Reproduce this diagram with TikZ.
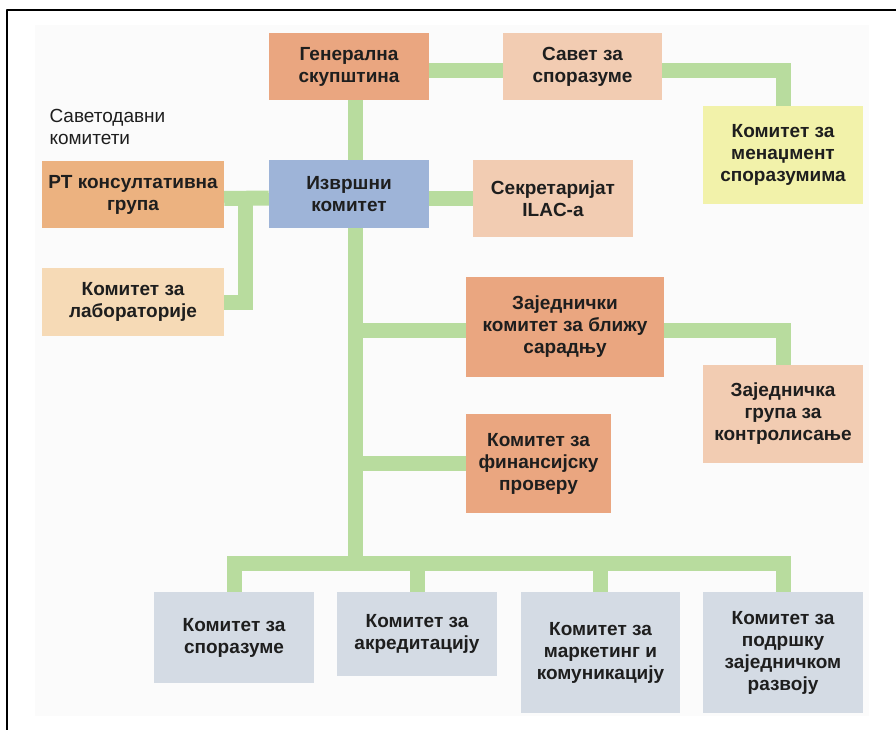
\documentclass[tikz,border=0pt]{standalone}
\usepackage{fontspec}
\setmainfont{Liberation Sans}
\definecolor{barGreen}{RGB}{184,220,158}
\definecolor{salmon}{RGB}{234,166,128}
\definecolor{peach}{RGB}{242,204,178}
\definecolor{lemon}{RGB}{242,242,170}
\definecolor{steel}{RGB}{158,180,216}
\definecolor{tan}{RGB}{236,178,128}
\definecolor{sand}{RGB}{246,218,182}
\definecolor{mist}{RGB}{212,219,228}
\definecolor{ink}{RGB}{30,30,30}
\begin{document}
\begin{tikzpicture}[x=1pt,y=-1pt, line join=round,
  box/.style={rectangle, inner sep=0pt, align=center, text=ink,
    font=\fontsize{19}{22}\selectfont\bfseries},
  wh/.style 2 args={minimum width=#1pt, minimum height=#2pt},
  bar/.style={draw=barGreen, line width=15pt, line join=miter}]
  \useasboundingbox (0,0) rectangle (896,730);
  \fill[black!1.5] (35,25) rectangle (869,716);
  \draw[line width=2.5pt] (7,730) -- (7,10) -- (896,10);

  % boxes
  \node[box, wh={160}{67}, fill=salmon] (gen) at (349,66.5) {Генерална\\скупштина};
  \node[box, wh={159}{67}, fill=peach] (savet) at (582.5,66.5) {Савет за\\споразуме};
  \node[box, wh={160}{98}, fill=lemon] (menadz) at (783,155) {Комитет за\\менаџмент\\споразумима};
  \node[box, wh={160}{68}, fill=steel] (izvr) at (349,194) {Извршни\\комитет};
  \node[box, wh={160}{77}, fill=peach] (sekr) at (553,198.5) {Секретаријат\\ILAC-а};
  \node[box, wh={182}{67}, fill=tan] (pt) at (133,194.5) {PT консултативна\\група};
  \node[box, wh={182}{68}, fill=sand] (lab) at (133,302) {Комитет за\\лабораторије};
  \node[box, wh={198}{100}, fill=salmon] (zajk) at (565,327) {Заједнички\\комитет за ближу\\сарадњу};
  \node[box, wh={160}{98}, fill=peach] (kontr) at (783,414) {Заједничка\\група за\\контролисање};
  \node[box, wh={145}{99}, fill=salmon] (fin) at (538.5,463.5) {Комитет за\\финансијску\\проверу};
  \node[box, wh={160}{91}, fill=mist] (spor) at (234,637.5) {Комитет за\\споразуме};
  \node[box, wh={160}{84}, fill=mist] (akr) at (417,634) {Комитет за\\акредитацију};
  \node[box, wh={159}{121}, fill=mist] (mark) at (600.5,652.5) {Комитет за\\маркетинг и\\комуникацију};
  \node[box, wh={160}{121}, fill=mist] (razv) at (783,652.5) {Комитет за\\подршку\\заједничком\\развоју};
  \node[anchor=north west, align=left, text=ink, font=\fontsize{19}{22}\selectfont]
    (savkom) at (46,106) {Саветодавни\\комитети};

  % connectors
  \coordinate (bus) at (355,563);
  \coordinate (labj) at (245,198);
  \draw[bar] (gen.south -| bus) -- (izvr.north -| bus);
  \draw[bar] (izvr.south -| bus) -- (bus);
  \draw[bar] ([yshift=-4.5pt]gen.east) -- ([yshift=-4.5pt]savet.west);
  \draw[bar] ([yshift=-4.5pt]savet.east) -| (menadz.north);
  \draw[bar] (izvr.east |- sekr.west) -- (sekr.west);
  \draw[bar] ([yshift=-4pt]pt.east) -- ([yshift=-4pt]izvr.west);
  \draw[bar] (lab.east) -| (labj);
  \draw[bar] ([yshift=-3pt]zajk.west -| bus) -- ([yshift=-3pt]zajk.west);
  \draw[bar] ([yshift=-3pt]zajk.east) -| (kontr.north);
  \draw[bar] (fin.west -| bus) -- (fin.west);
  \draw[bar] (spor.north) |- (bus) -| (razv.north);
  \draw[bar] (akr.north |- bus) -- (akr.north);
  \draw[bar] (mark.north |- bus) -- (mark.north);
\end{tikzpicture}
\end{document}
